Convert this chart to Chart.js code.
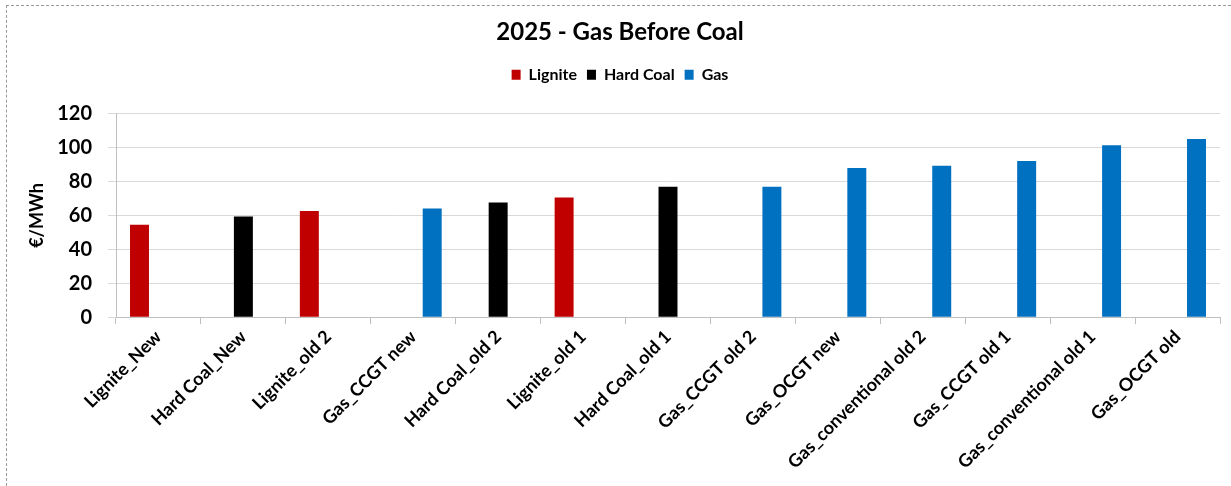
<!DOCTYPE html>
<html>
<head>
<meta charset="utf-8">
<title>2025 - Gas Before Coal</title>
<script src="https://cdn.jsdelivr.net/npm/chart.js@4/dist/chart.umd.min.js"></script>
<style>
  html, body { margin: 0; padding: 0; background: #fff; }
  #wrap { position: relative; width: 1231px; height: 486px; }
  #frame {
    position: absolute; left: 6px; top: 5px; right: 0; bottom: 0;
    border-top: 1px dashed #999; border-left: 1px dashed #999;
    pointer-events: none;
  }
</style>
</head>
<body>
<div id="wrap">
  <canvas id="cost-chart" width="1231" height="486"></canvas>
  <div id="frame"></div>
</div>
<script>
  'use strict';

  const categories = [
    'Lignite_New', 'Hard Coal_New', 'Lignite_old 2', 'Gas_CCGT new',
    'Hard Coal_old 2', 'Lignite_old 1', 'Hard Coal_old 1', 'Gas_CCGT old 2',
    'Gas_OCGT new', 'Gas_conventional old 2', 'Gas_CCGT old 1',
    'Gas_conventional old 1', 'Gas_OCGT old'
  ];
  const lignite = [54.5, null, 62.6, null, null, 70.6, null, null, null, null, null, null, null];
  const hardCoal = [null, 59.4, null, null, 67.7, null, 76.9, null, null, null, null, null, null];
  const gas = [null, null, null, 64.1, null, null, null, 76.9, 88.0, 89.3, 92.1, 101.5, 105.1];
  const yTicks = [0, 20, 40, 60, 80, 100, 120];

  const font = 'Lato, "Liberation Sans", sans-serif';

  // legend sits a bit higher above the plot than chart.js leaves by default
  const legendGap = {
    id: 'legendGap',
    beforeInit(chart) {
      const fit = chart.legend.fit;
      chart.legend.fit = function () {
        fit.bind(chart.legend)();
        this.height += 21;
      };
    }
  };

  new Chart(document.getElementById('cost-chart'), {
    type: 'bar',
    data: {
      labels: categories,
      datasets: [
        { label: 'Lignite', data: lignite, backgroundColor: '#C00000' },
        { label: 'Hard Coal', data: hardCoal, backgroundColor: '#000000' },
        { label: 'Gas', data: gas, backgroundColor: '#0070C0' }
      ]
    },
    options: {
      responsive: false,
      animation: false,
      categoryPercentage: 0.67,
      barPercentage: 1,
      layout: {
        padding: { left: 20, right: 11, top: 0, bottom: 11 }
      },
      plugins: {
        title: {
          display: true,
          text: '2025 - Gas Before Coal',
          color: '#000',
          font: { family: font, size: 24, weight: 'bold' },
          padding: { top: 18, bottom: 10 }
        },
        legend: {
          display: true,
          position: 'top',
          labels: {
            color: '#000',
            font: { family: font, size: 16, weight: 'bold' },
            boxWidth: 9,
            boxHeight: 10,
            padding: 10
          }
        },
        tooltip: { enabled: false }
      },
      scales: {
        x: {
          grid: {
            offset: true,
            drawOnChartArea: false,
            tickLength: 7,
            color: '#bfbfbf'
          },
          border: { color: '#bfbfbf' },
          ticks: {
            color: '#000',
            font: { family: font, size: 18, weight: 'bold' },
            maxRotation: 45,
            minRotation: 45,
            padding: 2,
            autoSkip: false
          }
        },
        y: {
          min: 0,
          max: 120,
          afterFit(scale) {
            scale.width = 96;
          },
          afterBuildTicks(scale) {
            scale.ticks = yTicks.map(v => ({ value: v }));
          },
          grid: {
            color: '#d9d9d9',
            tickLength: 8
          },
          border: { color: '#bfbfbf' },
          ticks: {
            color: '#000',
            font: { family: font, size: 20, weight: 'bold' },
            padding: 16
          },
          title: {
            display: true,
            text: '€/MWh',
            color: '#000',
            font: { family: font, size: 18, weight: 'bold' },
            padding: { top: 6, bottom: 4 }
          }
        }
      }
    },
    plugins: [legendGap]
  });
</script>
</body>
</html>
